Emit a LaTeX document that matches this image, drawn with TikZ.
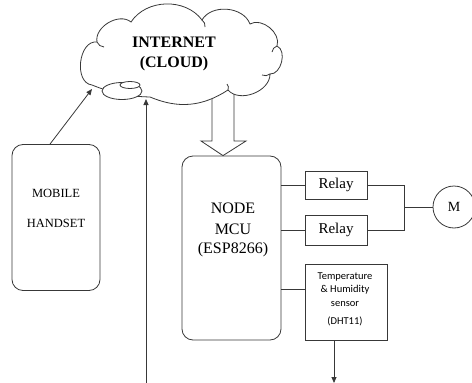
\documentclass[tikz,border=0pt]{standalone}
\usepackage{fontspec}
\setmainfont{Liberation Serif}
\newfontfamily\calib{Carlito}
\usetikzlibrary{arrows.meta,shapes.geometric}
\begin{document}
\begin{tikzpicture}[x=1pt,y=-1pt,
  line/.style={draw=black!78, line width=0.8pt},
  rbox/.style={line, rounded corners=11pt},
  sbox/.style={line},
  wire/.style={line},
  arr/.style={line, -{Triangle[length=6pt,width=5pt]}},
  puff/.style={bend left=#1},
  lbl/.style={inner sep=0pt, font=\fontsize{#1}{#1}\selectfont},
  lbl/.default=15
]
\useasboundingbox (0,0) rectangle (472,383);

% node mcu + hollow arrow (drawn first, cloud covers its top)
\node[rbox, minimum width=99pt, minimum height=184pt] (mcu) at (231.5,248) {};
\coordinate (hat) at (212,80);
\draw[line, fill=white] (hat) -- (212,141) -- (201,141) -- (mcu.north -| 223,0) -- (246,141) -- (234,141) -- (234,80);

% cloud
\coordinate (ca) at (92,85);
\coordinate (cb) at (97,42);
\coordinate (cc) at (131,22);
\coordinate (cd) at (202,20);
\coordinate (ce) at (250,24);
\coordinate (cf) at (277,46);
\coordinate (cg) at (270,74);
\coordinate (ch) at (228,90);
\coordinate (ci) at (150,97);
\draw[line, fill=white] (ca) to[puff=90, looseness=1.1] (cb) to[puff=70] (cc) to[puff=55] (cd)
   to[puff=65] (ce) to[puff=70] (cf) to[puff=80] (cg) to[puff=70] (ch)
   to[puff=28] (ci) to[puff=10] (ca) -- cycle;
% inner curls
\draw[line] (cb) to[bend right=30] (104,47);
\draw[line] (cd) to[bend left=30] (205,27);
\draw[line] (cf) to[bend right=30] (272,52);
\draw[line] (cg) to[bend left=30] (262,75);
\draw[line] (ch) to[bend right=30] (227,84);
\node[lbl=16, font=\bfseries\fontsize{16}{16}\selectfont] (inet) at (174,42) {INTERNET};
\node[lbl=16, font=\bfseries\fontsize{16}{16}\selectfont] (cl) at (174,64) {(CLOUD)};
\node[ellipse, line, fill=white, minimum width=40pt, minimum height=17pt, inner sep=0pt] (e1) at (122,91) {};
\node[ellipse, line, fill=white, minimum width=20pt, minimum height=7pt, inner sep=0pt] (e2) at (130,85) {};

% mobile handset
\node[rbox, minimum width=88pt, minimum height=146pt] (mob) at (56,217.5) {};
\node[lbl=12.5] (mt1) at (56,193) {MOBILE};
\node[lbl=12.5] (mt2) at (56,223) {HANDSET};

% node mcu text
\node[lbl=16] (n1) at (233,208) {NODE};
\node[lbl=16] (n2) at (233,229) {MCU};
\node[lbl=16] (n3) at (233,250) {(ESP8266)};

% relays
\node[sbox, minimum width=62pt, minimum height=28pt, font=\fontsize{15}{15}\selectfont] (r1) at (336,185) {Relay};
\node[sbox, minimum width=62pt, minimum height=30pt, font=\fontsize{15}{15}\selectfont] (r2) at (336,230) {Relay};

% sensor
\node[sbox, minimum width=82pt, minimum height=76pt] (sens) at (346,302) {};
\node[lbl=10.5, font=\calib\fontsize{10.5}{10.5}\selectfont] (s1) at (345,277) {Temperature};
\node[lbl=10.5, font=\calib\fontsize{10.5}{10.5}\selectfont] (s2) at (345,290) {\& Humidity};
\node[lbl=10.5, font=\calib\fontsize{10.5}{10.5}\selectfont] (s3) at (345,304) {sensor};
\node[lbl=10.5, font=\calib\fontsize{10.5}{10.5}\selectfont] (s4) at (345,321) {(DHT11)};

% motor
\node[circle, line, minimum size=42pt, inner sep=0pt, font=\fontsize{14}{14}\selectfont] (mot) at (454,207) {M};

% wires
\draw[wire] (mcu.east |- r1.west) -- (r1.west);
\draw[wire] (mcu.east |- r2.west) -- (r2.west);
\coordinate (sw) at (305,289);
\draw[wire] (mcu.east |- sw) -- (sw);
\coordinate (j) at (404,207);
\draw[wire] (r1.east) -- (r1.east -| j) -- (r2.east -| j) -- (r2.east);
\draw[wire] (j) -- (mot.west);

% arrows
\coordinate (sb) at (334,383);
\draw[arr] (sens.south -| sb) -- (sb);
\coordinate (vb) at (146,383);
\coordinate (vt) at (146,99);
\draw[arr] (vb) -- (vt);
\coordinate (ct) at (92,89);
\draw[arr] ([xshift=-6pt]mob.north) -- (ct);
\end{tikzpicture}
\end{document}
